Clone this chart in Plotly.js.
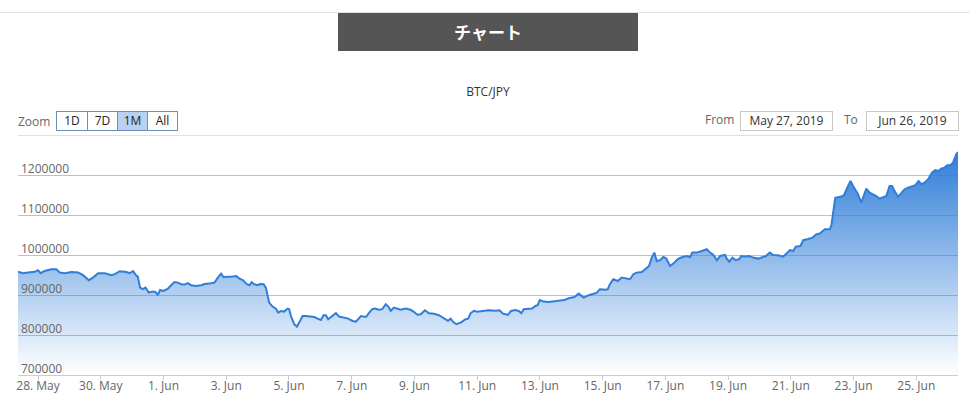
<!DOCTYPE html>
<html>
<head>
<meta charset="utf-8">
<script src="https://cdn.plot.ly/plotly-3.0.1.min.js"></script>
<style>
  html, body { margin:0; padding:0; background:#fff; }
  #wrap { position:relative; width:970px; height:398px; overflow:hidden; font-family:"Open Sans", sans-serif; }
  #chart { position:absolute; left:0; top:0; width:970px; height:398px; }
  .ov { position:absolute; z-index:5; }
  #topline { left:0; top:12px; width:970px; height:1px; background:#e2e2e2; }
  #hdr { left:338px; top:13px; width:300px; height:38px; background:#555555; color:#fff;
         font-family:"Noto Sans CJK JP", sans-serif; font-weight:bold; font-size:17px;
         line-height:38px; text-align:center; }
  #zoomlbl { left:18px; top:113px; font-size:12px; color:#666; line-height:18px; }
  #btns { left:56px; top:111px; height:18px; border:1px solid #6f8fbd; display:flex; background:#fff; }
  #btns div { height:18px; line-height:18px; font-size:12px; color:#222; text-align:center; border-left:1px solid #6f8fbd; }
  #btns div:first-child { border-left:none; }
  #btns div.sel { background:#b9d1f0; }
  .lbl { font-size:12px; color:#666; line-height:18px; }
  .box { height:18px; line-height:18px; border:1px solid #c8c8c8; font-size:12px; color:#333; text-align:center; background:#fff; }
</style>
</head>
<body>
<div id="wrap">
  <div id="chart"></div>
  <div class="ov" id="topline"></div>
  <div class="ov" id="hdr"></div>
  <div class="ov" id="zoomlbl"></div>
  <div class="ov" id="btns"></div>
  <div class="ov lbl" id="fromlbl" style="left:705px; top:111px;"></div>
  <div class="ov box" id="frombox" style="left:740px; top:111px; width:91px;"></div>
  <div class="ov lbl" id="tolbl" style="left:844px; top:111px;"></div>
  <div class="ov box" id="tobox" style="left:866px; top:111px; width:91px;"></div>
</div>
<script>
// ---- texts ----
const headerText = "チャート";
const chartTitle = "BTC/JPY";
const zoomLabel = "Zoom";
const zoomButtons = ["1D", "7D", "1M", "All"];
const zoomButtonWidths = [30, 29, 29, 29];
const selectedButton = "1M";
const fromLabel = "From";
const toLabel = "To";
const fromDate = "May 27, 2019";
const toDate = "Jun 26, 2019";

// ---- axis ticks ----
const xTickVals = ["2019-05-28","2019-05-30","2019-06-01","2019-06-03","2019-06-05","2019-06-07","2019-06-09",
                   "2019-06-11","2019-06-13","2019-06-15","2019-06-17","2019-06-19","2019-06-21","2019-06-23","2019-06-25"];
const xTickText = ["28. May","30. May","1. Jun","3. Jun","5. Jun","7. Jun","9. Jun",
                   "11. Jun","13. Jun","15. Jun","17. Jun","19. Jun","21. Jun","23. Jun","25. Jun"];
const yTickVals = [700000, 800000, 900000, 1000000, 1100000, 1200000];
const yTickText = ["700000","800000","900000","1000000","1100000","1200000"];
const xRange = ["2019-05-27 08:40", "2019-06-26 07:55"];
const yRange = [700000, 1300000];

// ---- series (BTC/JPY) ----
const times = [
"2019-05-27 08:40","2019-05-27 12:30","2019-05-27 16:20","2019-05-27 21:30","2019-05-28 00:00","2019-05-28 02:00",
"2019-05-28 05:00","2019-05-28 10:15","2019-05-28 14:00","2019-05-28 16:40","2019-05-28 20:25","2019-05-29 01:35",
"2019-05-29 06:40","2019-05-29 10:30","2019-05-29 14:50","2019-05-29 18:05","2019-05-29 21:55","2019-05-30 03:05",
"2019-05-30 08:10","2019-05-30 10:45","2019-05-30 14:30","2019-05-30 19:40","2019-05-30 22:10","2019-05-31 00:45",
"2019-05-31 03:00","2019-05-31 04:20","2019-05-31 06:05","2019-05-31 08:10","2019-05-31 10:15","2019-05-31 12:45",
"2019-05-31 15:20","2019-05-31 17:55","2019-05-31 19:40","2019-05-31 21:25","2019-06-01 00:00","2019-06-01 03:20",
"2019-06-01 05:50","2019-06-01 08:25","2019-06-01 11:00","2019-06-01 13:30","2019-06-01 16:05","2019-06-01 18:35",
"2019-06-01 21:10","2019-06-02 01:00","2019-06-02 04:50","2019-06-02 07:25","2019-06-02 12:25","2019-06-02 15:00",
"2019-06-02 17:35","2019-06-02 20:05","2019-06-02 21:55","2019-06-03 02:30","2019-06-03 05:05","2019-06-03 07:35",
"2019-06-03 10:10","2019-06-03 12:40","2019-06-03 15:45","2019-06-03 17:50","2019-06-03 19:25","2019-06-03 21:25",
"2019-06-04 00:00","2019-06-04 02:00","2019-06-04 04:35","2019-06-04 06:20","2019-06-04 07:35","2019-06-04 08:50",
"2019-06-04 11:30","2019-06-04 14:00","2019-06-04 15:45","2019-06-04 17:50","2019-06-04 20:20","2019-06-04 22:55",
"2019-06-05 00:10","2019-06-05 01:30","2019-06-05 04:00","2019-06-05 06:05","2019-06-05 07:50","2019-06-05 10:25",
"2019-06-05 13:00","2019-06-05 16:50","2019-06-05 19:20","2019-06-05 21:55","2019-06-06 00:25","2019-06-06 02:30",
"2019-06-06 04:15","2019-06-06 06:00","2019-06-06 09:25","2019-06-06 11:55","2019-06-06 14:25","2019-06-06 18:15",
"2019-06-06 21:20","2019-06-07 00:40","2019-06-07 03:15","2019-06-07 07:05","2019-06-07 10:55","2019-06-07 13:25",
"2019-06-07 15:45","2019-06-07 17:50","2019-06-07 20:50","2019-06-07 23:20","2019-06-08 02:00","2019-06-08 04:00",
"2019-06-08 05:50","2019-06-08 08:20","2019-06-08 10:50","2019-06-08 13:25","2019-06-08 17:15","2019-06-08 21:05",
"2019-06-08 23:35","2019-06-09 02:10","2019-06-09 04:45","2019-06-09 08:05","2019-06-09 11:05","2019-06-09 14:55",
"2019-06-09 18:45","2019-06-09 22:35","2019-06-10 01:40","2019-06-10 03:45","2019-06-10 05:30","2019-06-10 08:00",
"2019-06-10 11:25","2019-06-10 15:10","2019-06-10 17:10","2019-06-10 19:00","2019-06-10 21:35","2019-06-11 00:05",
"2019-06-11 03:55","2019-06-11 08:30","2019-06-11 13:55","2019-06-11 17:10","2019-06-11 19:45","2019-06-11 23:25",
"2019-06-12 01:55","2019-06-12 05:10","2019-06-12 07:50","2019-06-12 09:50","2019-06-12 11:35","2019-06-12 14:05",
"2019-06-12 18:00","2019-06-12 20:30","2019-06-12 22:20","2019-06-12 23:55","2019-06-13 02:55","2019-06-13 06:45",
"2019-06-13 10:35","2019-06-13 14:25","2019-06-13 18:40","2019-06-13 22:05","2019-06-14 02:25","2019-06-14 05:40",
"2019-06-14 09:30","2019-06-14 13:25","2019-06-14 17:10","2019-06-14 19:40","2019-06-14 21:50","2019-06-15 00:55",
"2019-06-15 02:35","2019-06-15 03:55","2019-06-15 05:35","2019-06-15 08:10","2019-06-15 11:35","2019-06-15 14:35",
"2019-06-15 17:40","2019-06-15 21:00","2019-06-15 23:30","2019-06-16 02:05","2019-06-16 06:00","2019-06-16 09:00",
"2019-06-16 11:30","2019-06-16 13:35","2019-06-16 15:35","2019-06-16 17:25","2019-06-16 20:00","2019-06-16 22:30",
"2019-06-17 00:35","2019-06-17 03:35","2019-06-17 06:05","2019-06-17 09:30","2019-06-17 13:00","2019-06-17 16:25",
"2019-06-17 18:55","2019-06-17 20:40","2019-06-18 00:00","2019-06-18 03:55","2019-06-18 07:40","2019-06-18 10:15",
"2019-06-18 12:45","2019-06-18 15:25","2019-06-18 17:55","2019-06-18 21:45","2019-06-18 22:45","2019-06-19 00:50",
"2019-06-19 03:20","2019-06-19 05:55","2019-06-19 08:25","2019-06-19 10:10","2019-06-19 12:50","2019-06-19 16:05",
"2019-06-19 19:05","2019-06-19 23:00","2019-06-20 02:20","2019-06-20 04:55","2019-06-20 07:55","2019-06-20 10:30",
"2019-06-20 14:20","2019-06-20 18:05","2019-06-20 20:40","2019-06-20 23:15","2019-06-21 01:50","2019-06-21 03:50",
"2019-06-21 07:25","2019-06-21 09:25","2019-06-21 13:15","2019-06-21 16:35","2019-06-21 19:40","2019-06-21 22:10",
"2019-06-22 02:05","2019-06-22 05:55","2019-06-22 07:10","2019-06-22 08:25","2019-06-22 10:00","2019-06-22 14:35",
"2019-06-22 16:40","2019-06-22 19:10","2019-06-22 21:40","2019-06-23 00:20","2019-06-23 03:25","2019-06-23 05:55",
"2019-06-23 08:00","2019-06-23 09:45","2019-06-23 12:20","2019-06-23 14:55","2019-06-23 17:25","2019-06-23 19:55",
"2019-06-23 22:30","2019-06-24 01:00","2019-06-24 03:35","2019-06-24 05:25","2019-06-24 07:25","2019-06-24 10:00",
"2019-06-24 12:30","2019-06-24 15:05","2019-06-24 17:40","2019-06-24 20:10","2019-06-24 23:20","2019-06-25 01:45",
"2019-06-25 03:50","2019-06-25 06:20","2019-06-25 09:25","2019-06-25 12:00","2019-06-25 14:30","2019-06-25 17:05",
"2019-06-25 19:05","2019-06-25 21:40","2019-06-25 23:40","2019-06-26 02:00","2019-06-26 04:05","2019-06-26 06:35",
"2019-06-26 07:55"
];
const prices = [
958000, 954500, 956000, 958000, 962000, 954500,
960000, 964500, 964500, 956000, 954500, 957500,
956000, 949500, 937000, 943500, 954500, 954500,
949500, 952000, 959500, 957500, 954500, 960000,
949500, 946000, 918500, 914500, 918500, 906000,
908500, 907500, 899500, 912500, 910000, 916000,
924500, 932500, 931000, 927000, 926000, 929500,
924500, 922500, 924500, 927500, 929500, 931000,
943500, 953500, 945000, 945000, 946000, 947500,
941000, 937500, 927000, 924500, 932000, 927000,
924500, 927500, 927000, 918500, 897500, 881000,
871000, 866000, 856000, 860000, 858500, 866000,
864500, 847500, 827000, 821000, 831000, 847500,
847500, 846000, 845000, 841000, 837500, 849500,
849500, 839500, 849500, 854500, 846000, 843500,
841000, 835000, 833500, 847500, 845000, 856000,
864500, 866000, 863000, 864500, 877000, 871000,
860500, 868500, 866000, 863000, 866000, 863000,
858000, 850500, 852000, 862000, 854500, 853000,
849500, 842000, 835500, 841000, 833000, 827000,
831000, 839500, 841000, 854500, 860500, 858000,
860500, 862000, 860500, 862000, 853500, 850500,
860000, 862500, 860000, 854500, 864500, 864500,
866000, 872500, 874500, 887500, 883500, 882500,
884500, 886000, 887500, 892000, 895000, 903500,
893500, 899500, 903500, 906000, 914500, 913500,
913000, 914500, 927000, 939500, 935000, 943500,
941000, 939500, 952000, 956000, 957500, 964500,
972500, 993500, 1006000, 985000, 987000, 995000,
992000, 972500, 978500, 989500, 995000, 997500,
995000, 1006000, 1006000, 1010000, 1014500, 1006000,
1000000, 987000, 997500, 1000000, 992000, 983500,
993500, 987000, 989500, 997500, 996000, 997500,
993500, 991000, 995000, 997500, 1006000, 1000000,
999500, 996000, 1003500, 1012000, 1010000, 1021000,
1022500, 1037000, 1040000, 1043500, 1052000, 1053500,
1064500, 1064500, 1077000, 1109000, 1143000, 1146000,
1149500, 1168500, 1185000, 1168500, 1152000, 1131000,
1147500, 1166000, 1156000, 1152000, 1147500, 1141000,
1143500, 1147500, 1172500, 1172500, 1160000, 1146000,
1154500, 1164500, 1168500, 1171000, 1174500, 1185000,
1177000, 1181000, 1191000, 1206000, 1212500, 1210000,
1216000, 1218500, 1224500, 1224500, 1231000, 1252000,
1257500
];

// ---- HTML header / controls ----
document.getElementById("hdr").textContent = headerText;
document.getElementById("zoomlbl").textContent = zoomLabel;
const btns = document.getElementById("btns");
zoomButtons.forEach((b, i) => {
  const d = document.createElement("div");
  d.textContent = b;
  d.style.width = zoomButtonWidths[i] + "px";
  if (b === selectedButton) d.className = "sel";
  btns.appendChild(d);
});
document.getElementById("fromlbl").textContent = fromLabel;
document.getElementById("tolbl").textContent = toLabel;
document.getElementById("frombox").textContent = fromDate;
document.getElementById("tobox").textContent = toDate;

// ---- chart ----
const lineColor = "#2f7ed8";
const trace = {
  type: "scatter",
  mode: "lines",
  x: times,
  y: prices,
  line: { color: lineColor, width: 2 },
  fill: "tozeroy",
  fillgradient: {
    type: "vertical",
    colorscale: [[0, "rgba(47,126,216,0)"], [1, "rgba(47,126,216,1)"]],
    start: yRange[0],
    stop: Math.max(...prices)
  },
  hoverinfo: "x+y",
  showlegend: false
};

const tickFont = { family: "Open Sans, sans-serif", size: 12, color: "#666666" };

// y-axis labels sit just above their grid lines, inside the plot
const yLabelAnnotations = yTickVals.map((v, i) => ({
  xref: "paper", x: 0, xanchor: "left", xshift: 1,
  yref: "y", y: v, yanchor: "middle", yshift: 7,
  text: yTickText[i], showarrow: false, font: tickFont
}));

const layout = {
  width: 970,
  height: 398,
  margin: { l: 18, r: 12, t: 135, b: 23, pad: 0 },
  paper_bgcolor: "rgba(0,0,0,0)",
  plot_bgcolor: "rgba(0,0,0,0)",
  title: {
    text: chartTitle,
    font: { family: "Open Sans, sans-serif", size: 12, color: "#333333" },
    x: 0.5, xref: "paper", xanchor: "center",
    y: 1 - 92 / 398, yref: "container", yanchor: "middle"
  },
  xaxis: {
    type: "date",
    range: xRange,
    tickmode: "array",
    tickvals: xTickVals,
    ticktext: xTickText,
    showgrid: false,
    zeroline: false,
    showline: true,
    linecolor: "#c0d0e0",
    linewidth: 1,
    ticks: "outside",
    ticklen: 4,
    tickcolor: "#c0d0e0",
    ticklabelstandoff: -4,
    tickfont: tickFont,
    fixedrange: true
  },
  yaxis: {
    range: yRange,
    tickmode: "array",
    tickvals: yTickVals,
    showticklabels: false,
    ticks: "",
    showgrid: true,
    gridcolor: "#c0c0c0",
    gridwidth: 1,
    zeroline: false,
    showline: false,
    fixedrange: true
  },
  annotations: yLabelAnnotations,
  shapes: [{
    type: "line", xref: "paper", x0: 0, x1: 1, yref: "y", y0: yRange[1], y1: yRange[1],
    line: { color: "#c0c0c0", width: 1 }, layer: "below"
  }],
  hovermode: "closest"
};

Plotly.newPlot("chart", [trace], layout, { displayModeBar: false, staticPlot: false });
</script>
</body>
</html>
